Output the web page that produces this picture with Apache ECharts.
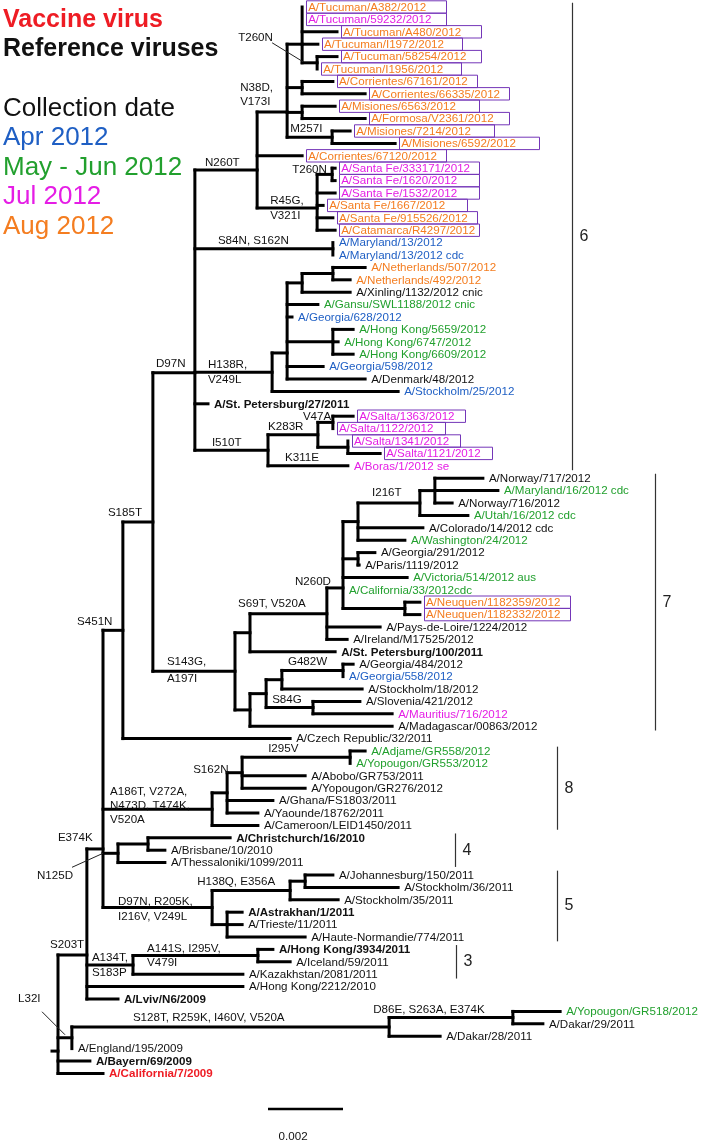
<!DOCTYPE html>
<html><head><meta charset="utf-8"><title>HA phylogenetic tree</title>
<script src="https://cdn.jsdelivr.net/npm/echarts@6/dist/echarts.min.js"></script>
<style>html,body{margin:0;padding:0;background:#fff;}#chart{width:702px;height:1144px;}</style>
</head><body><div id="chart"></div>
<script>
// ---------------- DATA ----------------
// [id, parent, divergence from root (x10^-3 substitutions/site), strain, collection-date class, mark]
const tree = [
 ['base', null, -0.16],
 ['root', 'base', 0],
 ['n87', 'root', 0.77],
 ['n103', 'n87', 1.20],
 ['n123', 'n103', 1.73],
 ['n153', 'n123', 2.53],
 ['n195', 'n153', 3.65],
 ['n257', 'n195', 5.31],
 ['n287', 'n257', 6.11],
 ['tuc', 'n287', 6.51],
 [null, 'tuc', 6.51, 'A/Tucuman/A382/2012', 'aug', 'boxA'],
 [null, 'tuc', 6.51, 'A/Tucuman/59232/2012', 'jul', 'boxA'],
 [null, 'tuc', 7.44, 'A/Tucuman/A480/2012', 'aug', 'boxA'],
 [null, 'tuc', 6.93, 'A/Tucuman/I1972/2012', 'aug', 'boxA'],
 ['tucT', 'tuc', 6.91],
 [null, 'tucT', 7.44, 'A/Tucuman/58254/2012', 'aug', 'boxA'],
 [null, 'tucT', 6.91, 'A/Tucuman/I1956/2012', 'aug', 'boxA'],
 ['cor', 'n287', 6.51],
 [null, 'cor', 7.33, 'A/Corrientes/67161/2012', 'aug', 'boxA'],
 [null, 'cor', 8.19, 'A/Corrientes/66335/2012', 'aug', 'boxA'],
 ['mis', 'n287', 6.51],
 [null, 'mis', 7.39, 'A/Misiones/6563/2012', 'aug', 'boxA'],
 [null, 'mis', 8.19, 'A/Formosa/V2361/2012', 'aug', 'boxA'],
 ['m257', 'n287', 7.31],
 [null, 'm257', 7.79, 'A/Misiones/7214/2012', 'aug', 'boxA'],
 [null, 'm257', 8.99, 'A/Misiones/6592/2012', 'aug', 'boxA'],
 [null, 'n257', 6.51, 'A/Corrientes/67120/2012', 'aug', 'boxA'],
 ['r45', 'n257', 6.91],
 ['sf', 'r45', 7.31],
 [null, 'sf', 7.39, 'A/Santa Fe/333171/2012', 'jul', 'boxA'],
 [null, 'sf', 7.39, 'A/Santa Fe/1620/2012', 'jul', 'boxA'],
 [null, 'r45', 7.39, 'A/Santa Fe/1532/2012', 'jul', 'boxA'],
 [null, 'r45', 7.07, 'A/Santa Fe/1667/2012', 'aug', 'boxA'],
 [null, 'r45', 7.33, 'A/Santa Fe/915526/2012', 'aug', 'boxA'],
 [null, 'r45', 7.39, 'A/Catamarca/R4297/2012', 'aug', 'boxA'],
 ['md', 'n195', 7.33],
 [null, 'md', 7.33, 'A/Maryland/13/2012', 'apr'],
 [null, 'md', 7.33, 'A/Maryland/13/2012 cdc', 'apr'],
 ['h138', 'n195', 5.71],
 ['nB', 'h138', 6.11],
 ['neth', 'nB', 6.51],
 ['nethS', 'neth', 7.33],
 [null, 'nethS', 8.19, 'A/Netherlands/507/2012', 'aug'],
 [null, 'nethS', 7.79, 'A/Netherlands/492/2012', 'aug'],
 [null, 'neth', 7.79, 'A/Xinling/1132/2012 cnic', 'ref'],
 [null, 'nB', 6.93, 'A/Gansu/SWL1188/2012 cnic', 'mayjun'],
 [null, 'nB', 6.24, 'A/Georgia/628/2012', 'apr'],
 ['hk', 'nB', 7.33],
 [null, 'hk', 7.87, 'A/Hong Kong/5659/2012', 'mayjun'],
 [null, 'hk', 7.47, 'A/Hong Kong/6747/2012', 'mayjun'],
 [null, 'hk', 7.87, 'A/Hong Kong/6609/2012', 'mayjun'],
 [null, 'nB', 7.07, 'A/Georgia/598/2012', 'apr'],
 [null, 'nB', 8.19, 'A/Denmark/48/2012', 'ref'],
 [null, 'h138', 9.07, 'A/Stockholm/25/2012', 'apr'],
 [null, 'n195', 4.00, 'A/St. Petersburg/27/2011', 'ref', 'bold'],
 ['i510', 'n195', 5.60],
 ['k283', 'i510', 6.93],
 ['v47', 'k283', 7.33],
 [null, 'v47', 7.87, 'A/Salta/1363/2012', 'jul', 'boxS'],
 [null, 'v47', 7.33, 'A/Salta/1122/2012', 'jul', 'boxS'],
 ['s348', 'k283', 7.73],
 [null, 's348', 7.73, 'A/Salta/1341/2012', 'jul', 'boxS'],
 [null, 's348', 8.59, 'A/Salta/1121/2012', 'jul', 'boxS'],
 ['boras', 'i510', 7.73, 'A/Boras/1/2012 se', 'jul'],
 ['n235', 'n153', 4.72],
 ['n250a', 'n235', 5.12],
 ['s69', 'n250a', 7.17],
 ['n260d', 's69', 7.60],
 ['n358', 'n260d', 8.00],
 ['i216', 'n358', 9.65],
 ['nor', 'i216', 10.05],
 [null, 'nor', 11.33, 'A/Norway/717/2012', 'ref'],
 [null, 'nor', 11.73, 'A/Maryland/16/2012 cdc', 'mayjun'],
 [null, 'nor', 10.51, 'A/Norway/716/2012', 'ref'],
 [null, 'i216', 10.93, 'A/Utah/16/2012 cdc', 'mayjun'],
 [null, 'n358', 9.73, 'A/Colorado/14/2012 cdc', 'ref'],
 [null, 'n358', 9.25, 'A/Washington/24/2012', 'mayjun'],
 ['gp', 'n260d', 8.00],
 [null, 'gp', 8.45, 'A/Georgia/291/2012', 'ref'],
 [null, 'gp', 8.03, 'A/Paris/1119/2012', 'ref'],
 [null, 'n260d', 9.31, 'A/Victoria/514/2012 aus', 'mayjun'],
 [null, 'n260d', 7.60, 'A/California/33/2012cdc', 'mayjun'],
 ['neu', 'n260d', 9.25],
 [null, 'neu', 9.65, 'A/Neuquen/1182359/2012', 'aug', 'boxN'],
 [null, 'neu', 9.65, 'A/Neuquen/1182332/2012', 'aug', 'boxN'],
 [null, 's69', 8.59, 'A/Pays-de-Loire/1224/2012', 'ref'],
 [null, 's69', 7.71, 'A/Ireland/M17525/2012', 'ref'],
 [null, 'n250a', 7.39, 'A/St. Petersburg/100/2011', 'ref', 'bold'],
 ['n250b', 'n235', 5.12],
 ['n266', 'n250b', 5.55],
 ['g482', 'n266', 5.97],
 ['geo', 'g482', 7.60],
 [null, 'geo', 7.87, 'A/Georgia/484/2012', 'ref'],
 [null, 'geo', 7.60, 'A/Georgia/558/2012', 'apr'],
 [null, 'g482', 8.11, 'A/Stockholm/18/2012', 'ref'],
 ['s84g', 'n266', 6.80],
 [null, 's84g', 8.05, 'A/Slovenia/421/2012', 'ref'],
 [null, 's84g', 8.91, 'A/Mauritius/716/2012', 'jul'],
 [null, 'n250b', 8.91, 'A/Madagascar/00863/2012', 'ref'],
 [null, 'n123', 6.19, 'A/Czech Republic/32/2011', 'ref'],
 ['a186', 'n103', 4.11],
 ['s162', 'a186', 4.51],
 ['n242', 's162', 4.91],
 ['i295', 'n242', 7.79],
 [null, 'i295', 8.19, 'A/Adjame/GR558/2012', 'mayjun'],
 [null, 'i295', 7.79, 'A/Yopougon/GR553/2012', 'mayjun'],
 [null, 'n242', 6.59, 'A/Abobo/GR753/2011', 'ref'],
 [null, 'n242', 6.59, 'A/Yopougon/GR276/2012', 'ref'],
 [null, 's162', 5.73, 'A/Ghana/FS1803/2011', 'ref'],
 [null, 's162', 5.33, 'A/Yaounde/18762/2011', 'ref'],
 [null, 'a186', 5.33, 'A/Cameroon/LEID1450/2011', 'ref'],
 ['n125', 'n103', 1.60],
 ['cb', 'n125', 2.40],
 [null, 'cb', 4.59, 'A/Christchurch/16/2010', 'ref', 'bold'],
 [null, 'cb', 2.85, 'A/Brisbane/10/2010', 'ref'],
 [null, 'n125', 2.85, 'A/Thessaloniki/1099/2011', 'ref'],
 ['d97b', 'n103', 4.11],
 ['h138q', 'd97b', 6.19],
 ['js', 'h138q', 6.59],
 [null, 'js', 7.33, 'A/Johannesburg/150/2011', 'ref'],
 [null, 'js', 9.07, 'A/Stockholm/36/2011', 'ref'],
 [null, 'h138q', 7.47, 'A/Stockholm/35/2011', 'ref'],
 ['ast', 'd97b', 4.51],
 [null, 'ast', 4.91, 'A/Astrakhan/1/2011', 'ref', 'bold'],
 [null, 'ast', 4.91, 'A/Trieste/11/2011', 'ref'],
 [null, 'ast', 6.59, 'A/Haute-Normandie/774/2011', 'ref'],
 ['a134', 'n87', 2.00],
 ['a141', 'a134', 5.33],
 [null, 'a141', 5.73, 'A/Hong Kong/3934/2011', 'ref', 'bold'],
 [null, 'a141', 6.19, 'A/Iceland/59/2011', 'ref'],
 [null, 'a134', 4.93, 'A/Kazakhstan/2081/2011', 'ref'],
 [null, 'n87', 4.93, 'A/Hong Kong/2212/2010', 'ref'],
 [null, 'n87', 1.60, 'A/Lviv/N6/2009', 'ref', 'bold'],
 ['l32', 'root', 0.37],
 ['s128', 'l32', 8.83],
 ['d86', 's128', 12.13],
 [null, 'd86', 13.39, 'A/Yopougon/GR518/2012', 'mayjun'],
 [null, 'd86', 12.93, 'A/Dakar/29/2011', 'ref'],
 [null, 's128', 10.19, 'A/Dakar/28/2011', 'ref'],
 [null, 'l32', 0.37, 'A/England/195/2009', 'ref'],
 [null, 'root', 0.85, 'A/Bayern/69/2009', 'ref', 'bold'],
 [null, 'root', 1.20, 'A/California/7/2009', 'vaccine', 'bold']
];

// rows (leaf units) of internal nodes as drawn in the source figure, where not centred on children
const nodeRowOverride = {root: 84.2, n87: 76.45, n103: 67.9, n195: 29.5, n257: 13.15,
  n287: 8.47, tuc: 3.0, r45: 16.2, nB: 27.9, n260d: 46.85};

// amino-acid substitutions on branches: [node the branch leads to, text]
const mutations = [
 ['tucT', 'T260N'], ['n287', 'N38D,\nV173I'], ['m257', 'M257I'], ['n257', 'N260T'],
 ['sf', 'T260N'], ['r45', 'R45G,\nV321I'], ['md', 'S84N, S162N'], ['h138', 'H138R,\nV249L'],
 ['n195', 'D97N'], ['i510', 'I510T'], ['v47', 'V47A'], ['k283', 'K283R'], ['boras', 'K311E'],
 ['n153', 'S185T'], ['i216', 'I216T'], ['n260d', 'N260D'], ['s69', 'S69T, V520A'],
 ['n235', 'S143G,\nA197I'], ['geo', 'G482W'], ['s84g', 'S84G'], ['n123', 'S451N'],
 ['i295', 'I295V'], ['s162', 'S162N'], ['a186', 'A186T, V272A,\nN473D, T474K,\nV520A'],
 ['n103', 'E374K'], ['n125', 'N125D'], ['h138q', 'H138Q, E356A'],
 ['d97b', 'D97N, R205K,\nI216V, V249L'], ['n87', 'S203T'], ['a134', 'A134T,\nS183P'],
 ['a141', 'A141S, I295V,\nV479I'], ['l32', 'L32I'], ['s128', 'S128T, R259K, I460V, V520A'],
 ['d86', 'D86E, S263A, E374K']
];

// genetic groups: [name, first leaf row, last leaf row]
const clades = [['6', 0, 37], ['7', 38, 58], ['8', 60, 66], ['4', 67, 69], ['5', 70, 75], ['3', 76, 78]];

const scaleBar = {length: 2, label: '0.002'};   // 0.002 substitutions/site

const legendLines = [['Vaccine virus', 'vaccine'], ['Reference viruses', 'ref'],
  ['Collection date', 'ref'], ['Apr 2012', 'apr'], ['May - Jun 2012', 'mayjun'],
  ['Jul 2012', 'jul'], ['Aug 2012', 'aug']];

// ---------------- STYLE / LAYOUT ----------------
const COLORS = {apr: '#1f5fc4', mayjun: '#22a02e', jul: '#e51de5', aug: '#f47d20', ref: '#111111', vaccine: '#ee1c24'};
const FONT = '"Liberation Sans", Arial, Helvetica, sans-serif';
const FS = 11.6;
const BOX_COLOR = '#7436b8';
const BOX_W = {boxA: 140, boxS: 108, boxN: 146};
const LABEL_GAP = 6;
// label offsets in px from (parent x, branch y); lh = line height; ptr = pointer line
const MUT_POS = {
 tucT: {dx: -64, dy: -25, ptr: [-30, -20, 1, -1]}, n287: {dx: -17, dy: -17, lh: 14},
 m257: {dx: 3, dy: -8}, n257: {dx: 10, dy: -7}, sf: {dx: -25, dy: -5},
 r45: {dx: 13, dy: 0, lh: 15}, md: {dx: 23, dy: -8}, h138: {dx: 13, dy: 0, lh: 15},
 n195: {dx: 3, dy: -9}, i510: {dx: 17, dy: -8}, v47: {dx: -15, dy: -6}, k283: {dx: 0, dy: -8},
 boras: {dx: 17, dy: -8}, n153: {dx: -15, dy: -9}, i216: {dx: 14, dy: -10},
 n260d: {dx: -32, dy: -6}, s69: {dx: -12, dy: -10}, n235: {dx: 14, dy: -1.5, lh: 17},
 geo: {dx: 6, dy: -9}, s84g: {dx: 6, dy: -8}, n123: {dx: -26, dy: -9}, i295: {dx: 26, dy: -8},
 s162: {dx: -19, dy: -23}, a186: {dx: 7, dy: -3, lh: 14}, n103: {dx: -29, dy: -11},
 n125: {dx: -66, dy: 22, ptr: [-31, 14, 0, 0]}, h138q: {dx: -15, dy: -9},
 d97b: {dx: 15, dy: 1.5, lh: 15}, n87: {dx: -8, dy: -10}, a134: {dx: 5, dy: 0.5, lh: 15},
 a141: {dx: 14, dy: 0, lh: 14}, l32: {dx: -40, dy: -39, ptr: [-16, -26, 7, -3]},
 s128: {dx: 61, dy: -9}, d86: {dx: -16, dy: -8}
};
const CLADE_X = {'6': 13.71, '7': 15.92, '8': 13.31, '4': 10.59, '5': 13.31, '3': 10.61};
const SCALE_POS = {x: 5.6, row: 88.87, labelX: 6.27, labelRow: 91.1};
const LEGEND_Y = [20, 49, 109, 138, 168, 197, 227];
const LEGEND_BOLD = [true, true, false, false, false, false, false];

// ---------------- BUILD TREE LAYOUT ----------------
const byId = {}; const allNodes = []; const leafList = [];
let leafRow = 0;
tree.forEach((t, i) => {
  const id = t[0] || ('leaf' + i);
  const n = {id, parent: t[1], x: t[2], label: t[3], date: t[4], mark: t[5], kids: []};
  byId[id] = n; allNodes.push(n);
  if (n.parent) byId[n.parent].kids.push(n);
  if (n.label) { n.row = leafRow++; leafList.push(n); }
});
function rowFor(n) {
  if (n.row !== undefined) return n.row;
  n.kids.forEach(rowFor);
  n.row = (n.id in nodeRowOverride) ? nodeRowOverride[n.id]
        : (n.kids[0].row + n.kids[n.kids.length - 1].row) / 2;
  return n.row;
}
rowFor(byId.base);

const segs = [];
allNodes.forEach(n => {
  if (n.parent) { const p = byId[n.parent]; if (n.x > p.x) segs.push([p.x, n.row, n.x, n.row]); }
  if (n.kids.length > 1) segs.push([n.x, n.kids[0].row, n.x, n.kids[n.kids.length - 1].row]);
});

const mutData = mutations.map(m => { const n = byId[m[0]]; return [byId[n.parent].x, n.row]; });
const cladeData = clades.map(c => [CLADE_X[c[0]], c[1] - 0.35, c[2] + 0.35]);

// ---------------- CHART ----------------
const chart = echarts.init(document.getElementById('chart'), null, {renderer: 'canvas'});

function txt(x, y, text, color, extra) {
  return {type: 'text', x: x, y: y, style: Object.assign({text: text, fill: color,
    fontSize: FS, fontFamily: FONT, align: 'left', verticalAlign: 'middle'}, extra || {})};
}

chart.setOption({
  animation: false,
  backgroundColor: '#fff',
  grid: {left: 58, top: 0.8, width: 637.5, height: 1122.2},
  xAxis: {type: 'value', min: 0, max: 17, show: false},
  yAxis: {type: 'value', min: -0.5, max: 90, inverse: true, show: false},
  graphic: legendLines.map((l, i) => ({type: 'text', x: 3, y: LEGEND_Y[i],
    style: {text: l[0], fill: COLORS[l[1]], fontSize: LEGEND_BOLD[i] ? 25 : 26, fontWeight: LEGEND_BOLD[i] ? 'bold' : 'normal',
      fontFamily: FONT, align: 'left', verticalAlign: 'middle'}})),
  series: [
    { // branches
      type: 'custom', coordinateSystem: 'cartesian2d', clip: false, silent: true,
      encode: {x: [0, 2], y: [1, 3]}, data: segs,
      renderItem: (params, api) => {
        const a = api.coord([api.value(0), api.value(1)]);
        const b = api.coord([api.value(2), api.value(3)]);
        return {type: 'line', shape: {x1: a[0], y1: a[1], x2: b[0], y2: b[1]},
          style: {stroke: '#000', lineWidth: 3, lineCap: 'square'}};
      }
    },
    { // strain labels
      type: 'custom', coordinateSystem: 'cartesian2d', clip: false, silent: true,
      data: leafList.map(n => [n.x, n.row]),
      renderItem: (params, api) => {
        const n = leafList[params.dataIndex];
        const p = api.coord([api.value(0), api.value(1)]);
        const ch = [];
        if (BOX_W[n.mark]) ch.push({type: 'rect', shape: {x: Math.round(p[0] + 4) + 0.5, y: p[1] - 6.2, width: BOX_W[n.mark], height: 12.4},
          style: {fill: 'none', stroke: BOX_COLOR, lineWidth: 1}});
        ch.push(txt(p[0] + LABEL_GAP, p[1] + 0.5, n.label, COLORS[n.date],
          {fontWeight: (n.mark === 'bold') ? 'bold' : 'normal'}));
        return {type: 'group', children: ch};
      }
    },
    { // substitution labels
      type: 'custom', coordinateSystem: 'cartesian2d', clip: false, silent: true,
      data: mutData,
      renderItem: (params, api) => {
        const m = mutations[params.dataIndex];
        const pos = MUT_POS[m[0]] || {dx: 4, dy: -8};
        const p = api.coord([api.value(0), api.value(1)]);
        const ch = [txt(p[0] + pos.dx, p[1] + pos.dy, m[1], '#111', pos.lh ? {lineHeight: pos.lh} : {})];
        if (pos.ptr) ch.push({type: 'line', shape: {x1: p[0] + pos.ptr[0], y1: p[1] + pos.ptr[1], x2: p[0] + pos.ptr[2], y2: p[1] + pos.ptr[3]},
          style: {stroke: '#222', lineWidth: 1}});
        return {type: 'group', children: ch};
      }
    },
    { // genetic group brackets
      type: 'custom', coordinateSystem: 'cartesian2d', clip: false, silent: true,
      data: cladeData,
      renderItem: (params, api) => {
        const a = api.coord([api.value(0), api.value(1)]);
        const b = api.coord([api.value(0), api.value(2)]);
        const x = Math.round(a[0]) + 0.5;
        return {type: 'group', children: [
          {type: 'line', shape: {x1: x, y1: a[1], x2: x, y2: b[1]}, style: {stroke: '#333', lineWidth: 1.2}},
          txt(x + 7, (a[1] + b[1]) / 2, clades[params.dataIndex][0], '#222', {fontSize: 16})
        ]};
      }
    },
    { // scale bar
      type: 'custom', coordinateSystem: 'cartesian2d', clip: false, silent: true,
      data: [[SCALE_POS.x, SCALE_POS.row]],
      renderItem: (params, api) => {
        const a = api.coord([SCALE_POS.x, SCALE_POS.row]);
        const b = api.coord([SCALE_POS.x + scaleBar.length, SCALE_POS.row]);
        const l = api.coord([SCALE_POS.labelX, SCALE_POS.labelRow]);
        return {type: 'group', children: [
          {type: 'line', shape: {x1: a[0], y1: a[1], x2: b[0], y2: b[1]}, style: {stroke: '#000', lineWidth: 2.5}},
          txt(l[0], l[1], scaleBar.label, '#111', {align: 'center'})
        ]};
      }
    }
  ]
});
</script>
</body></html>
